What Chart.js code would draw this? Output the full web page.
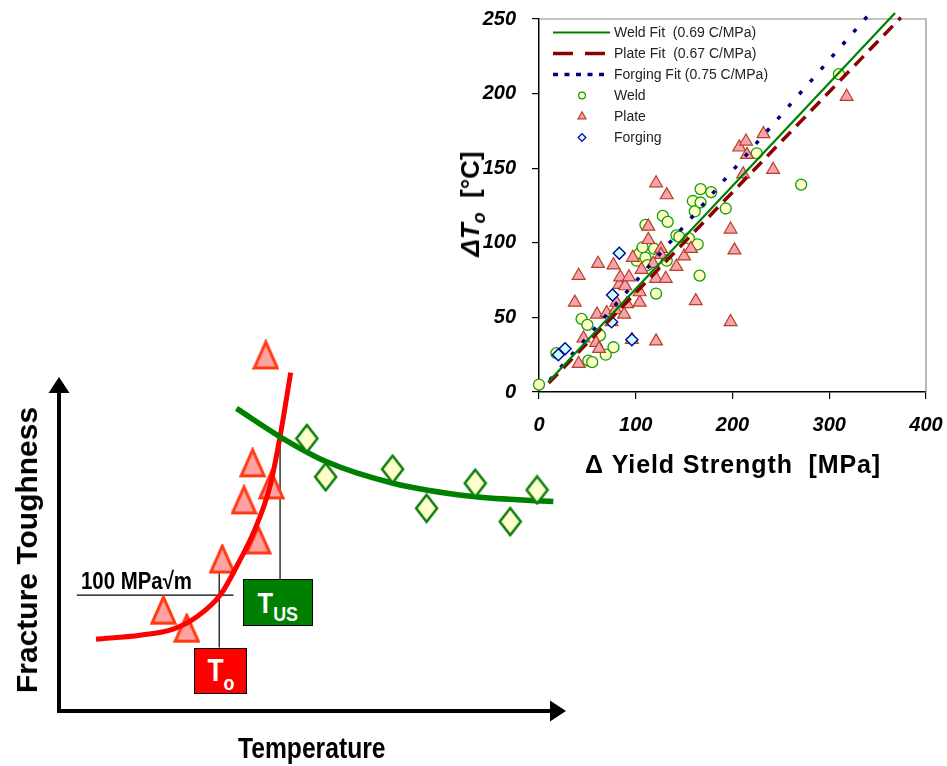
<!DOCTYPE html>
<html>
<head>
<meta charset="utf-8">
<script src="https://cdn.jsdelivr.net/npm/chart.js@4.4.1/dist/chart.umd.min.js"></script>
<style>
  html, body { margin: 0; padding: 0; background: #fff; }
  body { width: 947px; height: 766px; position: relative; overflow: hidden; font-family: "Liberation Sans", Arial, sans-serif; }
  .abs { position: absolute; white-space: pre; line-height: 1; }
  .narrow { font-family: "Liberation Sans", Arial, sans-serif; font-weight: bold; transform: scaleX(0.85); transform-origin: 0 50%; }
  #wrapLeft { position: absolute; left: 0; top: 330px; width: 580px; height: 436px; }
  #wrapRight { position: absolute; left: 470px; top: 0; width: 477px; height: 480px; }
  .box { position: absolute; box-sizing: border-box; border: 1.5px solid #000; color: #fff; display: flex; align-items: center; justify-content: center; font-weight: bold; }
  .box .in { display: inline-block; white-space: pre; transform: scaleX(0.85); }
</style>
</head>
<body>
<div id="wrapLeft"><canvas id="left" width="580" height="436"></canvas></div>
<div id="wrapRight"><canvas id="right" width="477" height="480"></canvas></div>

<!-- schematic labels -->
<div class="abs narrow" style="left:81px;top:569px;font-size:24px;">100 MPa√m</div>
<div class="abs narrow" style="left:238px;top:734px;font-size:29px;">Temperature</div>
<div class="abs" style="left:27px;top:550px;font-size:30px;font-weight:bold;transform:translate(-50%,-50%) rotate(-90deg);">Fracture Toughness</div>
<div class="box" style="left:194px;top:648px;width:53px;height:46px;background:#ff0000;"><span class="in"><span style="font-size:31px;">T</span><span style="font-size:21px;position:relative;top:9px;">o</span></span></div>
<div class="box" style="left:243px;top:579px;width:70px;height:47px;background:#008000;"><span class="in"><span style="font-size:30px;">T</span><span style="font-size:21px;position:relative;top:8px;">US</span></span></div>

<!-- right chart axis titles -->
<div class="abs" style="left:585px;top:452px;font-size:25px;font-weight:bold;letter-spacing:0.9px;">Δ Yield Strength  [MPa]</div>
<div class="abs" style="left:470px;top:204px;font-size:26px;font-weight:bold;transform:translate(-50%,-50%) rotate(-90deg);"><i>ΔT<span style="font-size:18px;position:relative;top:6px;">o</span></i>  [°C]</div>

<script>
// ---- right chart: shift in T0 vs shift in yield strength ----
const weldX = [0, 18, 44, 50, 51, 55, 63, 69, 77, 101, 104, 107, 110, 110, 112, 119, 121, 128, 133, 132, 142, 145, 155, 159, 161, 164, 166, 167, 167, 178, 193, 225, 271, 310];
const weldY = [5, 26, 49, 45, 21, 20, 38, 25, 30, 88, 93, 97, 112, 90, 85, 96, 66, 118, 114, 88, 105, 104, 103, 128, 121, 99, 78, 136, 127, 134, 123, 160, 139, 213];

const plateX = [41, 46, 59, 62, 37, 41, 61, 77, 60, 70, 75, 79, 83, 84, 89, 93, 88, 91, 80, 104, 104, 97, 106, 113, 113, 118, 121, 121, 126, 126, 121, 131, 132, 142, 150, 157, 162, 198, 202, 198, 207, 214, 215, 211, 232, 242, 318, 96];
const plateY = [19, 36, 33, 29, 60, 78, 86, 85, 52, 53, 47, 55, 72, 77, 71, 77, 52, 59, 60, 60, 67, 90, 82, 102, 111, 86, 140, 34, 96, 92, 76, 76, 132, 84, 91, 96, 61, 109, 95, 47, 164, 168, 159, 146, 173, 149, 198, 35];

const forgingX = [20, 27, 75, 76, 83, 96];
const forgingY = [25, 29, 47, 65, 93, 35];

const weldFitX = [10, 368];
const weldFitY = [7, 254];
const plateFitX = [10, 374];
const plateFitY = [6, 251];
const forgingFitX = [11, 345];
const forgingFitY = [8, 256];

const xTicksMax = 400;
const yTicksMax = 250;

// ---- left schematic: fracture toughness vs temperature ----
const redCurveT = [7.3, 16.0, 22.5, 27.2, 31.8, 35.7, 38.3, 41.6, 43.6, 45.7];
const redCurveK = [21.5, 22.7, 24.5, 28.2, 34.7, 45.2, 53.2, 67.2, 82.1, 101.3];
const triT = [40.8, 38.2, 41.9, 36.5, 39.3, 32.2, 20.6, 25.2];
const triK = [106.6, 74.3, 67.7, 63.2, 51.2, 45.5, 30.2, 24.8];

const greenCurveT = [35.0, 43.6, 52.8, 65.9, 81.7, 97.5];
const greenCurveK = [90.6, 82.1, 74.6, 68.2, 64.2, 62.7];
const diaT = [48.9, 52.6, 65.8, 72.5, 82.1, 89.0, 94.3];
const diaK = [81.6, 70.1, 72.4, 60.7, 68.2, 56.7, 66.2];

const refLineT = [3.5, 34.4];
const refLineK = [34.7, 34.7];
const toLineT = [31.6, 31.6];
const toLineK = [46.5, 19.0];
const tusLineT = [43.6, 43.6];
const tusLineK = [82.1, 39.5];

const pts = (xs, ys) => xs.map((x, i) => ({ x, y: ys[i] }));

// marker images for the schematic
const makeTri = () => {
    const c = document.createElement('canvas');
    c.width = 27; c.height = 31;
    const g = c.getContext('2d');
    g.beginPath();
    g.moveTo(13.5, 2.5); g.lineTo(25, 28.5); g.lineTo(2, 28.5); g.closePath();
    g.fillStyle = '#ffa2a2'; g.fill();
    g.lineWidth = 3; g.strokeStyle = '#ff3a10'; g.stroke();
    return c;
};
const makeDia = () => {
    const c = document.createElement('canvas');
    c.width = 25; c.height = 31;
    const g = c.getContext('2d');
    g.beginPath();
    g.moveTo(12.5, 2); g.lineTo(23, 15.5); g.lineTo(12.5, 29); g.lineTo(2, 15.5); g.closePath();
    g.fillStyle = '#ffffcc'; g.fill();
    g.lineWidth = 2.5; g.strokeStyle = '#0a7d0a'; g.stroke();
    return c;
};

const arrowAxes = {
    id: 'arrowAxes',
    beforeDatasetsDraw(chart) {
        const { ctx, chartArea: a } = chart;
        ctx.save();
        ctx.strokeStyle = '#000';
        ctx.lineWidth = 4;
        ctx.beginPath();
        ctx.moveTo(a.left, a.top + 14);
        ctx.lineTo(a.left, a.bottom);
        ctx.lineTo(a.right - 14, a.bottom);
        ctx.stroke();
        ctx.fillStyle = '#000';
        ctx.beginPath();
        ctx.moveTo(a.left, a.top);
        ctx.lineTo(a.left - 10.5, a.top + 16);
        ctx.lineTo(a.left + 10.5, a.top + 16);
        ctx.closePath();
        ctx.fill();
        ctx.beginPath();
        ctx.moveTo(a.right, a.bottom);
        ctx.lineTo(a.right - 16, a.bottom - 10.5);
        ctx.lineTo(a.right - 16, a.bottom + 10.5);
        ctx.closePath();
        ctx.fill();
        ctx.restore();
    }
};

const thin = (data) => ({
    data, showLine: true, borderColor: '#000', borderWidth: 1.2, pointRadius: 0, clip: false
});

new Chart(document.getElementById('left'), {
    type: 'scatter',
    data: {
        datasets: [
            { data: pts(diaT, diaK), pointStyle: makeDia(), pointRadius: 30, pointHoverRadius: 30, pointBorderWidth: 0, clip: false },
            { data: pts(greenCurveT, greenCurveK), showLine: true, borderColor: '#008000', borderWidth: 5.5, pointRadius: 0, cubicInterpolationMode: 'monotone', clip: false },
            { data: pts(redCurveT, redCurveK), showLine: true, borderColor: '#ff0000', borderWidth: 5, pointRadius: 0, cubicInterpolationMode: 'monotone', clip: false },
            { data: pts(triT, triK), pointStyle: makeTri(), pointRadius: 30, pointHoverRadius: 30, pointBorderWidth: 0, clip: false },
            thin(pts(refLineT, refLineK)),
            thin(pts(toLineT, toLineK)),
            thin(pts(tusLineT, tusLineK))
        ]
    },
    options: {
        responsive: false,
        animation: false,
        layout: { autoPadding: false, padding: { left: 59, right: 14, top: 47, bottom: 55 } },
        scales: {
            x: { display: false, min: 0, max: 100 },
            y: { display: false, min: 0, max: 100 }
        },
        plugins: { legend: { display: false }, tooltip: { enabled: false } }
    },
    plugins: [arrowAxes]
});

// right chart
const tickFont = { family: 'Liberation Sans', size: 20, weight: 'bold', style: 'italic' };

const frameAndLegend = {
    id: 'frameAndLegend',
    beforeDatasetsDraw(chart) {
        const { ctx, chartArea: a } = chart;
        ctx.save();
        ctx.strokeStyle = '#8a8a8a';
        ctx.lineWidth = 1.2;
        ctx.beginPath();
        ctx.moveTo(a.left, a.top);
        ctx.lineTo(a.right, a.top);
        ctx.lineTo(a.right, a.bottom);
        ctx.stroke();
        ctx.restore();
    },
    afterDatasetsDraw(chart) {
        const { ctx, chartArea: a } = chart;
        const ds = chart.data.datasets;
        const rows = [
            { d: ds[0], text: 'Weld Fit  (0.69 C/MPa)', dash: [] },
            { d: ds[1], text: 'Plate Fit  (0.67 C/MPa)', dash: [20, 12] },
            { d: ds[2], text: 'Forging Fit (0.75 C/MPa)', dash: [5, 6.5] },
            { d: ds[5], text: 'Weld', r: 3.4 },
            { d: ds[4], text: 'Plate', r: 4.6 },
            { d: ds[3], text: 'Forging', r: 3.8 }
        ];
        ctx.save();
        ctx.font = '14px "Liberation Sans", Arial, sans-serif';
        ctx.textBaseline = 'middle';
        rows.forEach((row, i) => {
            const y = a.top + 13.5 + i * 21;
            if (row.dash) {
                ctx.strokeStyle = row.d.borderColor;
                ctx.lineWidth = row.d.borderWidth;
                ctx.setLineDash(row.dash);
                ctx.beginPath();
                ctx.moveTo(a.left + 14, y);
                ctx.lineTo(a.left + 71, y);
                ctx.stroke();
                ctx.setLineDash([]);
            } else {
                ctx.fillStyle = row.d.backgroundColor;
                ctx.strokeStyle = row.d.borderColor;
                ctx.lineWidth = 1.2;
                Chart.helpers.drawPoint(ctx, { pointStyle: row.d.pointStyle, radius: row.r, borderWidth: 1.2, rotation: 0 }, a.left + 43, y);
            }
            ctx.fillStyle = '#222';
            ctx.fillText(row.text, a.left + 75, y + 1);
        });
        ctx.restore();
    }
};

const lineClip = { left: 0, top: 8, right: 0, bottom: 0 };

new Chart(document.getElementById('right'), {
    type: 'scatter',
    data: {
        datasets: [
            { label: 'Weld Fit', data: pts(weldFitX, weldFitY), showLine: true, borderColor: '#008000', borderWidth: 2.2, pointRadius: 0, clip: lineClip },
            { label: 'Plate Fit', data: pts(plateFitX, plateFitY), showLine: true, borderColor: '#8b0000', borderWidth: 3.5, borderDash: [13, 8], pointRadius: 0, clip: lineClip },
            { label: 'Forging Fit', data: pts(forgingFitX, forgingFitY), showLine: true, borderColor: '#000080', borderWidth: 3.5, borderDash: [4, 12.5], pointRadius: 0, clip: lineClip },
            { label: 'Forging', data: pts(forgingX, forgingY), pointStyle: 'rectRot', pointRadius: 6, backgroundColor: '#c8ffff', borderColor: '#000099', pointBorderWidth: 1.4, clip: false },
            { label: 'Plate', data: pts(plateX, plateY), pointStyle: 'triangle', pointRadius: 7.4, backgroundColor: '#f7a1b2', borderColor: '#b4421e', pointBorderWidth: 1.2, clip: false },
            { label: 'Weld', data: pts(weldX, weldY), pointStyle: 'circle', pointRadius: 5.5, backgroundColor: '#ffffc4', borderColor: '#139b13', pointBorderWidth: 1.3, clip: false }
        ]
    },
    options: {
        responsive: false,
        animation: false,
        layout: { autoPadding: false, padding: { left: 0, right: 21, top: 19, bottom: 0 } },
        scales: {
            x: {
                type: 'linear', min: 0, max: xTicksMax,
                ticks: { stepSize: 100, font: tickFont, color: '#000', padding: 14 },
                grid: { drawOnChartArea: false, tickLength: 7, color: '#000', lineWidth: 1.2 },
                border: { color: '#000', width: 1.5 },
                afterFit: (s) => { s.height = 88; s.paddingLeft = 0; s.paddingRight = 0 }
            },
            y: {
                type: 'linear', min: 0, max: yTicksMax,
                ticks: { stepSize: 50, font: tickFont, color: '#000', padding: 16 },
                grid: { drawOnChartArea: false, tickLength: 7, color: '#000', lineWidth: 1.2 },
                border: { color: '#000', width: 1.5 },
                afterFit: (s) => { s.width = 69; s.paddingTop = 0; s.paddingBottom = 0 }
            }
        },
        plugins: { legend: { display: false }, tooltip: { enabled: false } }
    },
    plugins: [frameAndLegend]
});
</script>
</body>
</html>
